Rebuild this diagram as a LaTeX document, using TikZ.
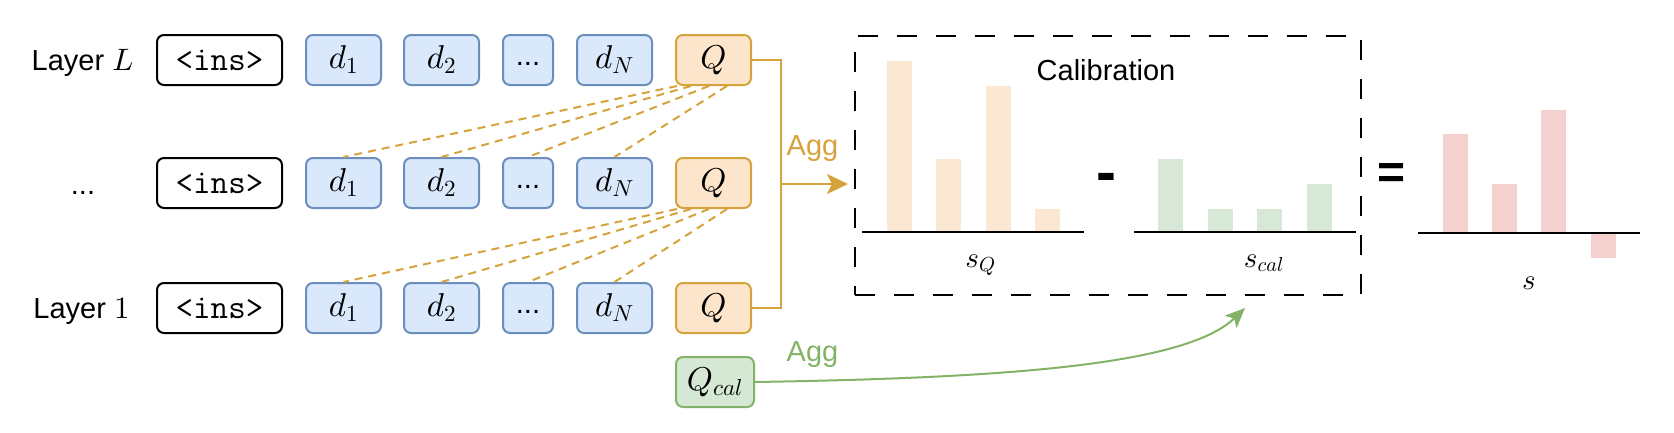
\RequirePackage{fix-cm}
\documentclass[tikz,border=0pt]{standalone}
\usepackage[no-math]{fontspec}
\setsansfont{Liberation Sans}
\DeclareFontFamily{OML}{cmm}{\skewchar\font'177}
\DeclareFontShape{OML}{cmm}{m}{it}{<->cmmi10}{}
\DeclareFontFamily{OT1}{cmr}{\hyphenchar\font45}
\DeclareFontShape{OT1}{cmr}{m}{n}{<->cmr10}{}
\usetikzlibrary{arrows.meta,calc}
\definecolor{bfill}{HTML}{DAE8FC}
\definecolor{bdraw}{HTML}{6C8EBF}
\definecolor{ofill}{HTML}{FCE5CB}
\definecolor{odraw}{HTML}{D6A23C}
\definecolor{obar}{HTML}{FBE8D2}
\definecolor{gfill}{HTML}{D5E8D4}
\definecolor{gdraw}{HTML}{82B366}
\definecolor{gbar}{HTML}{D8E8D6}
\definecolor{rbar}{HTML}{F4D0CF}
\newcommand\lblfont{\sffamily\fontsize{29}{34}\selectfont}
\newcommand\mfont{\fontsize{33}{40}\selectfont}
\newcommand\sfont{\fontsize{29}{36}\selectfont}
\tikzset{
  rbox/.style={rounded corners=7pt, line width=2pt, minimum height=50pt, inner sep=0pt, font=\mfont},
  insbox/.style={rbox, draw=black, fill=white, minimum width=125pt, font=\ttfamily\fontsize{34}{40}\selectfont},
  dbox/.style={rbox, draw=bdraw, fill=bfill, minimum width=75pt},
  dotbox/.style={rbox, draw=bdraw, fill=bfill, minimum width=50pt, font=\lblfont, text height=14pt, text depth=4pt},
  qbox/.style={rbox, draw=odraw, fill=ofill, minimum width=75pt},
  calqbox/.style={rbox, draw=gdraw, fill=gfill, minimum width=78pt},
  lbl/.style={font=\lblfont, inner sep=0pt, anchor=base},
  slbl/.style={font=\sfont, inner sep=0pt, anchor=base},
  qdash/.style={draw=odraw, line width=2pt, dash pattern=on 8pt off 6pt},
  oline/.style={draw=odraw, line width=2pt},
  gline/.style={draw=gdraw, line width=2pt},
  axis/.style={draw=black, line width=2pt},
  calframe/.style={draw=black, line width=2pt, dash pattern=on 20pt off 19pt, minimum width=506pt, minimum height=259pt, inner sep=0pt},
}
\begin{document}
\begin{tikzpicture}[x=1pt,y=-1pt]
\useasboundingbox (0,0) rectangle (1674,432);

% row labels
\node[lbl] (labL) at (82.5,70) {Layer {\fontsize{31}{38}\selectfont$L$}};
\node[lbl] (labdots) at (83,194) {...};
\node[lbl] (lab1) at (81.5,318) {Layer {\fontsize{31}{38}\selectfont$1$}};

% rows of boxes
\foreach \r/\y in {3/60,2/183,1/308} {
  \node[insbox] (ins\r) at (219.5,\y) {<ins>};
  \node[dbox] (a\r) at (343.5,\y) {$d_1$};
  \node[dbox] (b\r) at (441.5,\y) {$d_2$};
  \node[dotbox] (c\r) at (528,\y) {...};
  \node[dbox] (n\r) at (614.5,\y) {$d_N$};
  \node[qbox] (q\r) at (713.5,\y) {$Q$};
}
\node[calqbox] (qcal) at (715,382) {$Q_{cal}$};

% attention dashed lines
\foreach \u/\l in {3/2,2/1} {
  \draw[qdash] ([xshift=2pt]q\u.south west) -- (a\l.north);
  \draw[qdash] ([xshift=16pt]q\u.south west) -- (b\l.north);
  \draw[qdash] ([xshift=34pt]q\u.south west) -- (c\l.north);
  \draw[qdash] ([xshift=52pt]q\u.south west) -- (n\l.north);
}

% aggregation bracket
\coordinate (bx) at (781,184);
\coordinate (tip) at (848,184);
\draw[oline] (q3.east) -| (bx) |- (q1.east);
\draw[oline, -{Stealth[length=21pt,width=20pt,inset=5pt]}] (bx) -- (tip);
\node[lbl, text=odraw] (agg1) at (812.5,155) {Agg};

% calibration frame
\node[calframe] (calib) at (1108,165.5) {};
\node[lbl] (caltxt) at (1106,80) {Calibration};

% s_Q bars
\foreach \x/\t in {887/61,936/159,986/86,1035/209}
  \fill[obar] (\x,\t) rectangle (\x+25,232);
\draw[axis] (862,232) -- (1084,232);
\node[slbl] (sq) at (980.5,267) {$s_Q$};

\node[font=\sffamily\bfseries\fontsize{60}{60}\selectfont, inner sep=0pt, anchor=base] (minus) at (1106,192) {-};

% s_cal bars
\foreach \x/\t in {1158/159,1208/209,1257/209,1307/184}
  \fill[gbar] (\x,\t) rectangle (\x+25,232);
\draw[axis] (1134,232) -- (1356,232);
\node[slbl] (scal) at (1264,267) {$s_{cal}$};

\node[font=\sffamily\bfseries\fontsize{48}{48}\selectfont, inner sep=0pt, anchor=base] (eq) at (1391.5,188) {=};

% s bars
\foreach \x/\t/\b in {1443/134/233,1492/184/233,1541/110/233,1591/233/258}
  \fill[rbar] (\x,\t) rectangle (\x+25,\b);
\draw[axis] (1418,233) -- (1640,233);
\node[slbl] (s) at (1529,289) {$s$};

% calibration query arrow
\coordinate (gtip) at (1245,308);
\draw[gline, -{Stealth[length=20pt,width=17pt,inset=5pt]}] (qcal.east) .. controls (1000,378) and (1185,366) .. (gtip);
\node[lbl, text=gdraw] (agg2) at (812.5,361) {Agg};
\end{tikzpicture}
\end{document}
